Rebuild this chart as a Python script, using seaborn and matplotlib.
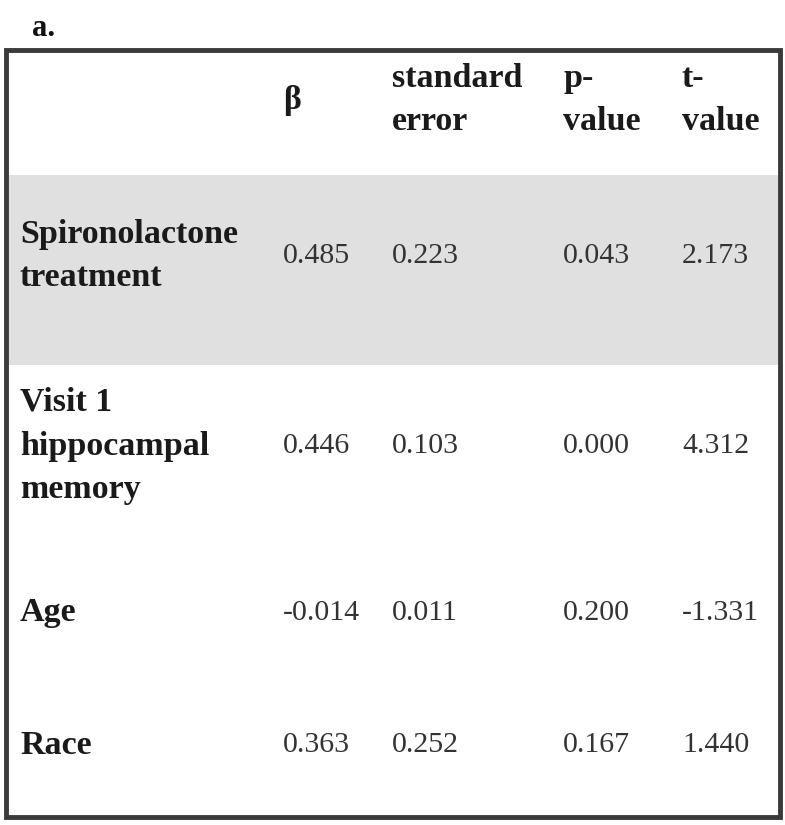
import pandas as pd
import numpy as np
import seaborn as sns
import matplotlib.pyplot as plt
from matplotlib.patches import Rectangle

# table values
row_labels = ['Spironolactone\ntreatment', 'Visit 1\nhippocampal\nmemory', 'Age', 'Race']
beta = ['0.485', '0.446', '-0.014', '0.363']
std_err = ['0.223', '0.103', '0.011', '0.252']
p_value = ['0.043', '0.000', '0.200', '0.167']
t_value = ['2.173', '4.312', '-1.331', '1.440']
headers = ['β', 'standard\nerror', 'p-\nvalue', 't-\nvalue']

table = pd.DataFrame({'beta': beta, 'se': std_err, 'p': p_value, 't': t_value}, index=row_labels)

sns.set_theme(style='white')
plt.rcParams['font.family'] = ['Liberation Serif', 'DejaVu Serif']

fig = plt.figure(figsize=(7.85, 8.25), dpi=100)
ax = fig.add_axes([0, 0, 1, 1])
ax.set_xlim(0, 785)
ax.set_ylim(825, 0)
ax.axis('off')

# layout (pixels)
col_x = [283, 392, 563, 682]
label_x = 20
header_y = 100
row_y = [256, 446, 613, 745]
fs_bold = 24.5
fs_num = 21.5
ls = 1.53

# shaded first row
ax.add_patch(Rectangle((9, 175), 769, 190, facecolor='#e0e0e0', edgecolor='none', zorder=0))
# outer frame
ax.add_patch(Rectangle((6, 50), 774, 767, facecolor='none', edgecolor='#3a3a3a', linewidth=3.5, zorder=3))

ax.text(32, 29, 'a.', fontsize=22, fontweight='bold', color='#111111', va='center', ha='left')

for x, h in zip(col_x, headers):
    ax.text(x, header_y, h, fontsize=fs_bold, fontweight='bold', color='#1a1a1a',
            va='center', ha='left', linespacing=ls)

for y, (label, vals) in zip(row_y, table.iterrows()):
    ax.text(label_x, y, label, fontsize=fs_bold, fontweight='bold', color='#1a1a1a',
            va='center', ha='left', linespacing=ls)
    for x, v in zip(col_x, vals.values):
        ax.text(x, y, v, fontsize=fs_num, color='#333333', va='center', ha='left')

fig.savefig('out.png', dpi=100, facecolor='white')
